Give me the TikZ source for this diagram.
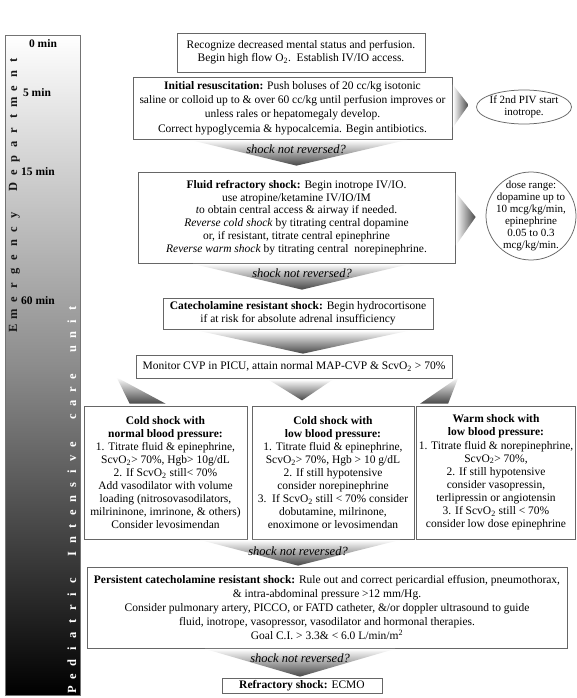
\documentclass[tikz,border=0pt]{standalone}
\usepackage{fontspec}
\setmainfont{Liberation Serif}
\usetikzlibrary{calc,shapes.geometric}
\newcommand\bxf{\fontsize{11.5}{13.2}\selectfont}
\begin{document}
\begin{tikzpicture}[x=1pt,y=-1pt,
  box/.style={draw=black!60, line width=0.75pt, fill=white, align=center, inner sep=1pt, font=\bxf},
  oval/.style={draw=black!60, line width=0.75pt, ellipse, inner sep=0pt},
  ovaltext/.style={align=center, inner sep=0pt, font=\fontsize{11}{12}\selectfont},
  wedgev/.style={top color=white, bottom color=black!72},
  wedgeh/.style={left color=white, right color=black!72},
  qtext/.style={font=\fontsize{12.5}{14}\selectfont\itshape, inner sep=0pt},
  tlab/.style={font=\fontsize{11.5}{13}\selectfont\bfseries, inner sep=0pt},
  vlet/.style={font=\fontsize{12.5}{13}\selectfont\bfseries, rotate=90, inner sep=0pt, anchor=base},
]
\useasboundingbox (0,0) rectangle (577,698);
\fill[white] (0,0) rectangle (577,698);

% time bar
\shade[top color=white, bottom color=black, middle color=black!45] (5,35) rectangle (80,695);
\draw[black!55, line width=0.6pt] (5,35) rectangle (80,695);
\node[tlab] (t0) at (43,44) {0 min};
\node[tlab] (t5) at (37,93) {5 min};
\node[tlab] (t15) at (38,172) {15 min};
\node[tlab] (t60) at (38,301) {60 min};
\foreach \l [count=\i from 0] in {E,m,e,r,g,e,n,c,y,{},D,e,p,a,r,t,m,e,n,t}
  \node[vlet, text=black!90] (ed\i) at (17,{328-14.1*\i}) {\l};
\foreach \l [count=\i from 0] in {P,e,d,i,a,t,r,i,c,{},I,n,t,e,n,s,i,v,e,{},c,a,r,e,{},u,n,i,t}
  \node[vlet, text=white] (pi\i) at (76,{690-13.64*\i}) {\l};

% boxes
\node[box, minimum width=248, minimum height=39] (b1) at (301,52.5)
  {Recognize decreased mental status and perfusion.\\
   Begin high flow O\textsubscript{2}.\ \ Establish IV/IO access.};
\node[box, minimum width=319, minimum height=62, font=\fontsize{11.5}{14.3}\selectfont] (b2) at (292.5,108)
  {\textbf{Initial resuscitation:} Push boluses of 20 cc/kg isotonic\\
   saline or colloid up to \& over 60 cc/kg until perfusion improves or\\
   unless rales or hepatomegaly develop.\\
   Correct hypoglycemia \& hypocalcemia. Begin antibiotics.};
\node[oval, minimum width=95, minimum height=34] (e1) at (524,107) {};
\node[ovaltext] (e1t) at (e1.center) {If 2nd PIV start\\ inotrope.};

\node[box, minimum width=317, minimum height=91, font=\fontsize{11.5}{12.8}\selectfont] (b3) at (296.5,217.5)
  {\textbf{Fluid refractory shock:} Begin inotrope IV/IO.\\
   use atropine/ketamine IV/IO/IM\\
   \textit{t}o obtain central access \& airway if needed.\\
   \textit{Reverse cold shock} by titrating central dopamine\\
   or, if resistant, titrate central epinephrine\\
   \textit{Reverse warm shock} by titrating central\ \ norepinephrine.};
\node[oval, minimum width=90, minimum height=88] (e2) at (531,216) {};
\node[ovaltext] (e2t) at (e2.center)
  {dose range:\\ dopamine up to\\ 10 mcg/kg/min,\\ epinephrine\\ 0.05 to 0.3\\ mcg/kg/min.};

\node[box, minimum width=270, minimum height=31] (b4) at (298,313.5)
  {\textbf{Catecholamine resistant shock:} Begin hydrocortisone\\
   if at risk for absolute adrenal insufficiency};
\node[box, minimum width=316, minimum height=23] (b5) at (294,366.5)
  {Monitor CVP in PICU, attain normal MAP-CVP \& ScvO\textsubscript{2} > 70\%};

\node[box, minimum width=163, minimum height=133, font=\fontsize{11.5}{13.1}\selectfont] (c1) at (165.5,472.5)
  {\textbf{Cold shock with}\\ \textbf{normal blood pressure:}\\
   1. Titrate fluid \& epinephrine,\\ ScvO\textsubscript{2}> 70\%, Hgb> 10g/dL\\
   2. If ScvO\textsubscript{2} still< 70\%\\ Add vasodilator with volume\\
   loading (nitrosovasodilators,\\ milrininone, imrinone, \& others)\\
   Consider levosimendan};
\node[box, minimum width=162, minimum height=133, font=\fontsize{11.5}{13.1}\selectfont] (c2) at (333,472.5)
  {\textbf{Cold shock with}\\ \textbf{low blood pressure:}\\
   1. Titrate fluid \& epinephrine,\\ ScvO\textsubscript{2}> 70\%, Hgb > 10 g/dL\\
   2. If still hypotensive\\ consider norepinephrine\\
   3.\ \ If ScvO\textsubscript{2} still < 70\% consider\\ dobutamine, milrinone,\\
   enoximone or levosimendan};
\node[box, minimum width=159, minimum height=133, font=\fontsize{11.5}{13.1}\selectfont] (c3) at (496,472.5)
  {\textbf{Warm shock with}\\ \textbf{low blood pressure:}\\
   1. Titrate fluid \& norepinephrine,\\ ScvO\textsubscript{2}> 70\%,\\
   2. If still hypotensive\\ consider vasopressin,\\
   terlipressin or angiotensin\\ 3. If ScvO\textsubscript{2} still < 70\%\\
   consider low dose epinephrine};

\node[box, minimum width=480, minimum height=81, font=\fontsize{11.5}{14}\selectfont] (b6) at (327,607.5)
  {\textbf{Persistent catecholamine resistant shock:} Rule out and correct pericardial effusion, pneumothorax,\\
   \& intra-abdominal pressure >12 mm/Hg.\\
   Consider pulmonary artery, PICCO, or FATD catheter, \&/or doppler ultrasound to guide\\
   fluid, inotrope, vasopressor, vasodilator and hormonal therapies.\\
   Goal C.I. > 3.3\& < 6.0 L/min/m\textsuperscript{2}};
\node[box, minimum width=160, minimum height=15] (b7) at (302,685.5)
  {\textbf{Refractory shock:} ECMO};

% wedge connectors
\shade[wedgev] ($(b2.south)+(-102.5,0.5)$) -- ($(b2.south)+(114.5,0.5)$) -- ($(b3.north)+(0,-6)$) -- cycle;
\shade[wedgev] ($(b3.south)+(-103.5,0.5)$) -- ($(b3.south)+(113.5,0.5)$) -- ($(b4.north)+(4,-8)$) -- cycle;
\shade[wedgev] ($(b4.south)+(-101,1)$) -- ($(b4.south)+(112,1)$) -- ($(b4.south |- b5.north)+(5,-1)$) -- cycle;
\shade[wedgev] ($(b5.south west)+(-19,-1)$) -- ($(c1.north west)+(46,-2)$) -- ($(c1.north)+(0,-2)$) -- cycle;
\shade[wedgev] ($(b5.south)+(-26,1)$) -- ($(b5.south)+(39,1)$) -- ($(b5.south)+(8,22)$) -- cycle;
\shade[wedgev] ($(b5.south east)+(6,-1)$) -- ($(c3.north west)+(32,-2)$) -- ($(c3.north west)+(4,-2)$) -- cycle;
\shade[wedgev] ($(c2.south)+(-133,0.5)$) -- ($(c2.south)+(67,0.5)$) -- ($(b6.north)+(-29,-1)$) -- cycle;
\shade[wedgev] ($(b6.south)+(-122,0.5)$) -- ($(b6.south)+(68,0.5)$) -- ($(b7.north)+(-2,-1)$) -- cycle;
\shade[wedgeh] ($(b2.north east)+(0.5,8)$) -- ($(b2.south east)+(0.5,-12)$) -- ($(e1.west)+(-7.5,-2)$) -- cycle;
\shade[wedgeh] ($(b3.north east)+(0.5,21)$) -- ($(b3.south east)+(0.5,-18)$) -- ($(e2.west)+(-10,1)$) -- cycle;

\node[qtext] (q1) at (296,149) {shock not reversed?};
\node[qtext] (q2) at (302,273) {shock not reversed?};
\node[qtext] (q4) at (298,551) {shock not reversed?};
\node[qtext] (q5) at (300,658) {shock not reversed?};
\end{tikzpicture}
\end{document}
